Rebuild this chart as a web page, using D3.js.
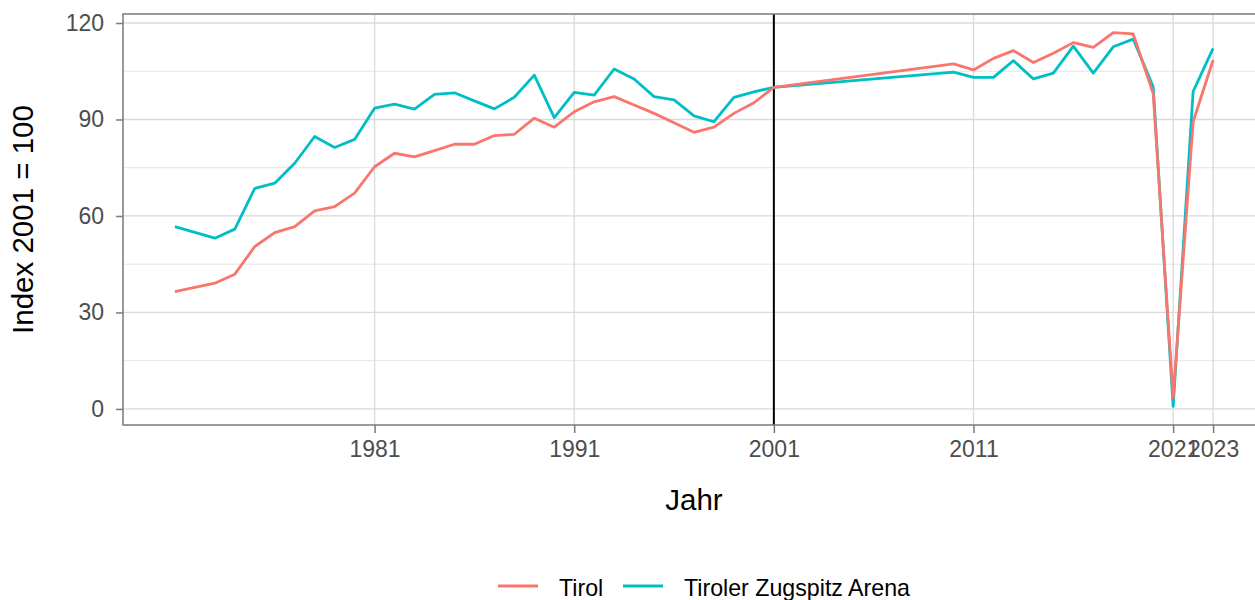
<!DOCTYPE html>
<html>
  <head>
    <meta charset="utf-8" />
    <title>Index 2001 = 100</title>
    <style>
      html,
      body {
        margin: 0;
        padding: 0;
        background: #fff;
        font-family: 'Liberation Sans', Arial, Helvetica, sans-serif;
      }
      svg {
        display: block;
      }
    </style>
  </head>
  <body>
    <svg width="1255" height="600"></svg>

    <script src="https://cdn.jsdelivr.net/npm/d3@7/dist/d3.min.js"></script>
    <script>
      // Jahre: 1971-2001 jährlich, danach 2010-2023
      const years = [
        1971, 1972, 1973, 1974, 1975, 1976, 1977, 1978, 1979, 1980,
        1981, 1982, 1983, 1984, 1985, 1986, 1987, 1988, 1989, 1990,
        1991, 1992, 1993, 1994, 1995, 1996, 1997, 1998, 1999, 2000,
        2001, 2010, 2011, 2012, 2013, 2014, 2015, 2016, 2017, 2018,
        2019, 2020, 2021, 2022, 2023,
      ];
      const tirol = [
        36.5, 37.8, 39.1, 41.9, 50.5, 54.8, 56.7, 61.6, 62.9, 67.1,
        75.3, 79.5, 78.4, 80.3, 82.3, 82.3, 85.0, 85.4, 90.4, 87.6,
        92.4, 95.5, 97.1, 94.5, 91.9, 89.0, 86.0, 87.6, 91.9, 95.2,
        100.0, 107.3, 105.4, 109.0, 111.4, 107.7, 110.6, 113.9, 112.4, 117.0,
        116.6, 98.1, 3.5, 89.3, 108.5,
      ];
      const zugspitzArena = [
        56.7, 54.9, 53.1, 55.9, 68.6, 70.2, 76.4, 84.7, 81.3, 83.8,
        93.5, 94.8, 93.2, 97.8, 98.3, 95.8, 93.3, 96.9, 103.8, 90.6,
        98.4, 97.6, 105.7, 102.6, 97.1, 96.1, 91.1, 89.3, 96.9, 98.6,
        100.0, 104.7, 103.1, 103.1, 108.3, 102.6, 104.4, 112.8, 104.4, 112.6,
        115.0, 100.2, 0.8, 98.7, 112.1,
      ];
      const seriesNames = ['Tirol', 'Tiroler Zugspitz Arena'];
      const seriesColors = ['#F8766D', '#00BFC4'];
      const xTicks = [1981, 1991, 2001, 2011, 2021, 2023];
      const yTicks = [0, 30, 60, 90, 120];
      const yMinor = [15, 45, 75, 105];
      const refYear = 2001;
    </script>
    <script>
      const svg = d3.select('svg');
      const panel = { left: 123, right: 1265, top: 14, bottom: 425 }; // Panel reicht rechts über den Bildrand

      const x = d3.scaleLinear().domain([1968.4, 2025.6]).range([panel.left, panel.right]);
      const y = d3.scaleLinear().domain([-5, 122.8]).range([panel.bottom, panel.top]);

      const g = svg.append('g');

      // Gitterlinien
      g.selectAll('.minor-y')
        .data(yMinor)
        .enter()
        .append('line')
        .attr('x1', panel.left)
        .attr('x2', panel.right)
        .attr('y1', (d) => y(d))
        .attr('y2', (d) => y(d))
        .attr('stroke', '#e4e4e4')
        .attr('stroke-width', 1);

      g.selectAll('.major-y')
        .data(yTicks)
        .enter()
        .append('line')
        .attr('x1', panel.left)
        .attr('x2', panel.right)
        .attr('y1', (d) => y(d))
        .attr('y2', (d) => y(d))
        .attr('stroke', '#dadada')
        .attr('stroke-width', 1.3);

      g.selectAll('.major-x')
        .data(xTicks)
        .enter()
        .append('line')
        .attr('x1', (d) => x(d))
        .attr('x2', (d) => x(d))
        .attr('y1', panel.top)
        .attr('y2', panel.bottom)
        .attr('stroke', '#dadada')
        .attr('stroke-width', 1.3);

      // Referenzlinie 2001
      g.append('line')
        .attr('x1', x(refYear))
        .attr('x2', x(refYear))
        .attr('y1', panel.top)
        .attr('y2', panel.bottom)
        .attr('stroke', '#000')
        .attr('stroke-width', 2);

      // Linien (Tirol zuletzt, liegt oben)
      const series = [
        { name: seriesNames[1], color: seriesColors[1], values: zugspitzArena },
        { name: seriesNames[0], color: seriesColors[0], values: tirol },
      ];
      const line = d3
        .line()
        .x((d) => x(d[0]))
        .y((d) => y(d[1]));

      g.selectAll('.series')
        .data(series)
        .enter()
        .append('path')
        .attr('fill', 'none')
        .attr('stroke', (d) => d.color)
        .attr('stroke-width', 2.8)
        .attr('stroke-linejoin', 'round')
        .attr('d', (d) => line(years.map((yr, i) => [yr, d.values[i]])));

      // Rahmen
      g.append('rect')
        .attr('x', panel.left)
        .attr('y', panel.top)
        .attr('width', panel.right - panel.left)
        .attr('height', panel.bottom - panel.top)
        .attr('fill', 'none')
        .attr('stroke', '#7a7a7a')
        .attr('stroke-width', 1.5);

      // Achsen
      const xAxis = svg
        .append('g')
        .attr('transform', `translate(0,${panel.bottom})`)
        .call(d3.axisBottom(x).tickValues(xTicks).tickFormat(d3.format('d')).tickSize(8).tickPadding(8));
      const yAxis = svg
        .append('g')
        .attr('transform', `translate(${panel.left},0)`)
        .call(d3.axisLeft(y).tickValues(yTicks).tickSize(7).tickPadding(12));

      [xAxis, yAxis].forEach((ax) => {
        ax.select('.domain').remove();
        ax.selectAll('.tick line').attr('stroke', '#7a7a7a').attr('stroke-width', 1.5);
        ax.selectAll('.tick text')
          .attr('fill', '#4d4d4d')
          .style('font-family', "'Liberation Sans', Arial, sans-serif")
          .style('font-size', '23px');
      });

      // Achsentitel
      svg.append('text')
        .attr('x', (panel.left + panel.right) / 2)
        .attr('y', 510)
        .attr('text-anchor', 'middle')
        .style('font-size', '29.5px')
        .text('Jahr');

      svg.append('text')
        .attr('transform', `translate(33,${(panel.top + panel.bottom) / 2}) rotate(-90)`)
        .attr('text-anchor', 'middle')
        .style('font-size', '29.5px')
        .text('Index 2001 = 100');

      // Legende
      const legendItems = [
        { name: seriesNames[0], color: seriesColors[0], x: 498 },
        { name: seriesNames[1], color: seriesColors[1], x: 623 },
      ];
      const legend = svg.append('g');
      legendItems.forEach((d) => {
        legend.append('line')
          .attr('x1', d.x)
          .attr('x2', d.x + 40)
          .attr('y1', 586)
          .attr('y2', 586)
          .attr('stroke', d.color)
          .attr('stroke-width', 2.8);
        legend.append('text')
          .attr('x', d.x + 61)
          .attr('y', 596)
          .style('font-size', '23.2px')
          .text(d.name);
      });
    </script>
  </body>
</html>
